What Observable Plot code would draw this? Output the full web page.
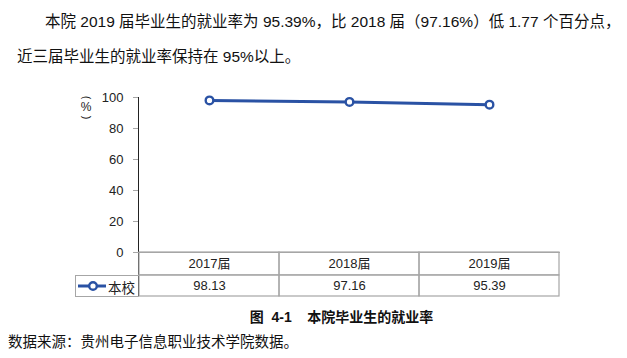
<!DOCTYPE html>
<html><head><meta charset="utf-8">
<script src="https://cdn.jsdelivr.net/npm/d3@7"></script>
<script src="https://cdn.jsdelivr.net/npm/@observablehq/plot@0.6"></script>
<style>
  html,body{margin:0;padding:0;background:#fff;}
  body{width:627px;height:358px;position:relative;overflow:hidden;font-family:"Liberation Sans","Noto Sans CJK SC",sans-serif;color:#111;}
  .abs{position:absolute;white-space:nowrap;}
  #chart{position:absolute;left:0;top:0;}
  #chart svg [aria-label^="y-axis"] line, #chart svg [aria-label^="y-axis"] path{stroke:#a6a6a6;stroke-opacity:1;}
  #chart svg [aria-label^="y-axis"] text{fill:#222;}
  .rp{position:absolute;left:0;width:14px;text-align:center;font-size:11px;line-height:11px;transform:rotate(90deg);}
</style>
</head><body>
<div class="abs" style="left:45px;top:9px;font-size:15.5px;">本院 2019 届毕业生的就业率为 95.39%，比 2018 届（97.16%）低 1.77 个百分点，</div>
<div class="abs" style="left:17px;top:44px;font-size:15.5px;">近三届毕业生的就业率保持在 95%以上。</div>
<div id="chart"></div>
<div class="abs" style="left:79px;top:91px;width:14px;height:30px;color:#222;">
  <span class="rp" style="top:1px;">(</span>
  <span style="position:absolute;left:0;top:10px;width:14px;text-align:center;font-size:12px;line-height:12px;">%</span>
  <span class="rp" style="top:21px;">)</span>
</div>
<div class="abs" style="left:75px;top:275px;width:63px;height:20px;border-left:1px solid #a6a6a6;border-top:1px solid #a6a6a6;border-bottom:1px solid #a6a6a6;">
  <svg width="30" height="20" style="position:absolute;left:1px;top:0;">
    <line x1="1" y1="10" x2="29" y2="10" stroke="#2a52a4" stroke-width="3"/>
    <circle cx="16" cy="10" r="3.8" fill="#fff" stroke="#2a52a4" stroke-width="2.4"/>
  </svg>
  <span style="position:absolute;left:32px;top:1px;font-size:13.5px;color:#222;">本校</span>
</div>
<div class="abs" style="left:0;width:627px;top:306px;text-align:center;font-size:14px;font-weight:bold;padding-left:56px;box-sizing:border-box;">图&nbsp;&nbsp;4-1&nbsp;&nbsp;&nbsp;&nbsp;本院毕业生的就业率</div>
<div class="abs" style="left:8px;top:330px;font-size:14.5px;">数据来源：贵州电子信息职业技术学院数据。</div>
<script>
const years = ["2017届", "2018届", "2019届"];
const rates = [98.13, 97.16, 95.39];
const yTicks = [0, 20, 40, 60, 80, 100];
// table rows expressed in y units below zero
const row1 = [0, -14.8];
const row2 = [-14.8, -28.4];

const data = years.map((y, i) => ({year: y, rate: rates[i]}));
const blue = "#2a52a4";
const gray = "#a6a6a6";

const chart = Plot.plot({
  width: 627,
  height: 358,
  marginLeft: 138,
  marginRight: 67,
  marginTop: 97,
  marginBottom: 62,
  style: {fontFamily: "'Liberation Sans','Noto Sans CJK SC',sans-serif", fontSize: "13px", color: "#222", background: "transparent"},
  x: {type: "band", domain: years, padding: 0, axis: null},
  y: {domain: [row2[1], 100], ticks: yTicks, tickSize: 5, tickPadding: 10, label: null, line: true},
  marks: [
    Plot.barY(years, {x: d => d, y1: row1[0], y2: row1[1], fill: "none", stroke: gray, strokeWidth: 1.2}),
    Plot.barY(years, {x: d => d, y1: row2[0], y2: row2[1], fill: "none", stroke: gray, strokeWidth: 1.2}),
    Plot.ruleY([0], {stroke: gray, strokeWidth: 1.2}),
    Plot.text(years, {x: d => d, y: (row1[0] + row1[1]) / 2, text: d => d, fontSize: 13, fill: "#222"}),
    Plot.text(data, {x: "year", y: (row2[0] + row2[1]) / 2, text: d => d.rate.toFixed(2), fontSize: 13, fill: "#222"}),
    Plot.line(data, {x: "year", y: "rate", stroke: blue, strokeWidth: 3}),
    Plot.dot(data, {x: "year", y: "rate", r: 3.8, fill: "#fff", stroke: blue, strokeWidth: 2.4})
  ]
});
document.getElementById("chart").appendChild(chart);
</script>
</body></html>
